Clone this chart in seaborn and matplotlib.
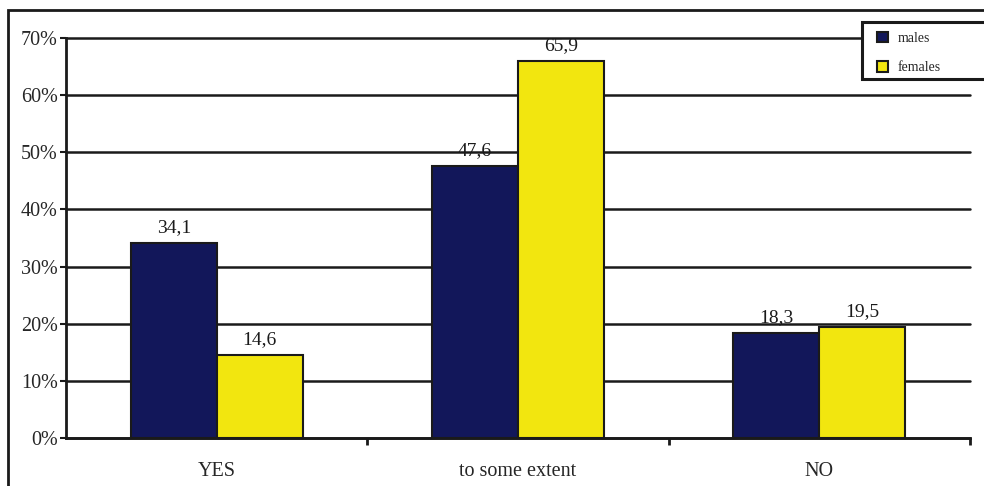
import matplotlib
matplotlib.use("Agg")
import matplotlib.pyplot as plt
from matplotlib.patches import Rectangle
from matplotlib.ticker import FuncFormatter
import pandas as pd
import seaborn as sns

categories = ["YES", "to some extent", "NO"]
males = [34.1, 47.6, 18.3]
females = [14.6, 65.9, 19.5]
series = ["males", "females"]
colors = ["#12175a", "#f2e60f"]

df = pd.DataFrame({
    "answer": categories * 2,
    "value": males + females,
    "sex": [series[0]] * 3 + [series[1]] * 3,
})

sns.set_style("white")
plt.rcParams["font.family"] = ["Liberation Serif", "DejaVu Serif"]

fig = plt.figure(figsize=(9.84, 4.86), dpi=100)
ax = fig.add_axes([66 / 984, 1 - 438 / 486, (970 - 66) / 984, 400 / 486])

sns.barplot(data=df, x="answer", y="value", hue="sex", order=categories,
            hue_order=series, palette=colors, width=0.57, saturation=1,
            edgecolor="#1a1a1a", linewidth=1.5, ax=ax, legend=False, zorder=3)

ax.set_ylim(0, 70)
ax.set_xlim(-0.5, 2.5)
ax.set_yticks(range(0, 71, 10))
ax.yaxis.set_major_formatter(FuncFormatter(lambda v, p: "%d%%" % v))
ax.yaxis.grid(True, color="#1a1a1a", linewidth=1.8, zorder=0)
for gl in ax.yaxis.get_gridlines():
    gl.set_clip_on(False)
ax.set_axisbelow(True)
ax.set_xlabel("")
ax.set_ylabel("")

for s in ["top", "right"]:
    ax.spines[s].set_visible(False)
for s in ["left", "bottom"]:
    ax.spines[s].set_color("#1a1a1a")
    ax.spines[s].set_linewidth(2)

ax.tick_params(axis="y", labelsize=14.5, length=4, width=1.5, color="#1a1a1a",
               direction="out", pad=2, left=True)
ax.tick_params(axis="x", which="major", length=0, labelsize=14.5, pad=17)
ax.set_xticks([0.5, 1.5, 2.5], minor=True)
ax.tick_params(axis="x", which="minor", length=5, width=2, color="#1a1a1a",
               direction="out", bottom=True)

for cont in ax.containers:
    labels = [("%.1f" % b.get_height()).replace(".", ",") for b in cont]
    ax.bar_label(cont, labels=labels, padding=5, fontsize=14, color="#1a1a1a")

# outer frame
fig.patches.append(Rectangle((8 / 984, -0.05), 1.2, 1 - 10 / 486 + 0.05,
                             transform=fig.transFigure, fill=False,
                             edgecolor="#1a1a1a", linewidth=2, zorder=0))

# legend box runs off the right edge
fig.patches.append(Rectangle((862 / 984, 1 - 79 / 486), 0.2, 57 / 486,
                             transform=fig.transFigure, facecolor="white",
                             edgecolor="#1a1a1a", linewidth=2.2, zorder=5))
handles = [Rectangle((0, 0), 1, 1, facecolor=c, edgecolor="#1a1a1a", linewidth=1.5)
           for c in colors]
leg = fig.legend(handles, series, loc="upper left",
                 bbox_to_anchor=(874 / 984, 1 - 29 / 486), fontsize=10,
                 handlelength=0.8, handleheight=0.8, handletextpad=0.7,
                 labelspacing=1.15, borderpad=0.2, frameon=False,
                 borderaxespad=0)
leg.set_zorder(6)

fig.savefig("out.png", dpi=100)
